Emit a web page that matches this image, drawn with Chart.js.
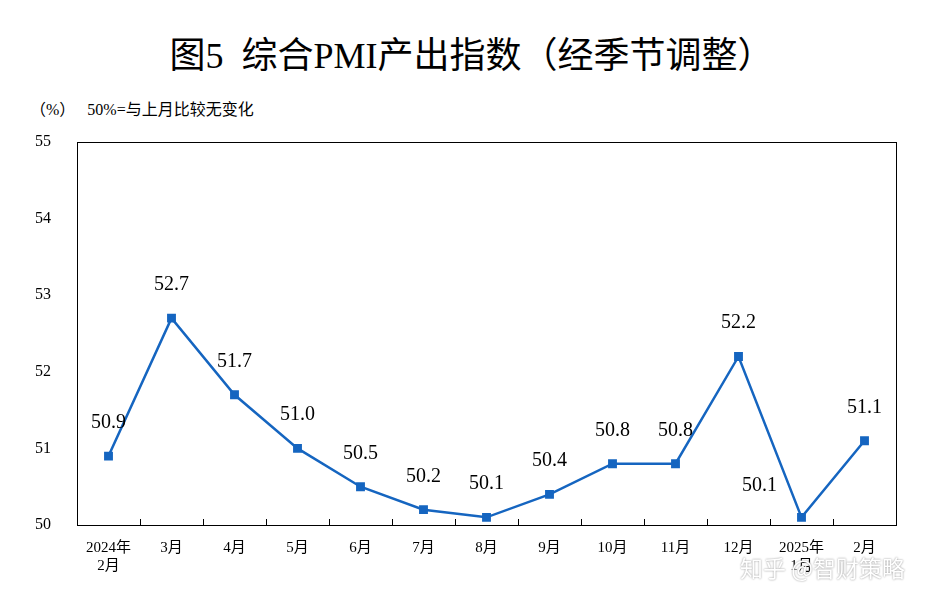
<!DOCTYPE html>
<html><head><meta charset="utf-8">
<script src="https://cdn.jsdelivr.net/npm/chart.js@4"></script>
<style>
body{margin:0;background:#fff;width:943px;height:603px;overflow:hidden;font-family:"Liberation Serif","Noto Sans CJK SC",serif}
#title{position:absolute;top:26px;left:0;width:943px;text-align:center;font-size:36px;color:#000}
#unit{position:absolute;top:96px;left:30px;font-size:16px;color:#000}
#wm{position:absolute;left:740px;top:550px;font-size:23px;color:#fff;text-shadow:0 0 2px #888;font-family:"Noto Sans CJK SC",sans-serif}
#box{position:absolute;left:0;top:0;width:943px;height:603px}
</style></head><body>
<div id="title">图5&nbsp; 综合PMI产出指数（经季节调整）</div>
<div id="unit">（%）&nbsp;&nbsp; 50%=与上月比较无变化</div>
<div id="box"><canvas id="c" width="943" height="603"></canvas></div>
<div id="wm">知乎 @智财策略</div>
<script>
const categories = [['2024年','2月'],'3月','4月','5月','6月','7月','8月','9月','10月','11月','12月',['2025年','1月'],'2月'];
const values = [50.9,52.7,51.7,51.0,50.5,50.2,50.1,50.4,50.8,50.8,52.2,50.1,51.1];
const yTicks = [50,51,52,53,54,55];

const frame = {
  id:'frame',
  afterDraw(chart){
    const {ctx, chartArea:a, scales:{x}} = chart;
    ctx.save();
    ctx.strokeStyle='#000'; ctx.lineWidth=1;
    ctx.strokeRect(a.left+0.5,a.top+0.5,a.right-a.left,a.bottom-a.top);
    for(let i=1;i<categories.length;i++){
      const px=Math.round((x.getPixelForValue(i-1)+x.getPixelForValue(i))/2)+0.5;
      ctx.beginPath();ctx.moveTo(px,a.bottom);ctx.lineTo(px,a.bottom-6);ctx.stroke();
    }
    ctx.font='20px "Liberation Serif", serif';
    ctx.fillStyle='#000';ctx.textAlign='center';
    chart.getDatasetMeta(0).data.forEach((p,i)=>{
      let tx=p.x, ty=p.y-28;
      if(i===11){tx=p.x-42; ty=p.y-26;}
      ctx.fillText(values[i].toFixed(1),tx,ty);
    });
    ctx.restore();
  }
};

new Chart(document.getElementById('c'),{
  type:'line',
  data:{labels:categories,datasets:[{data:values,borderColor:'#1565c0',backgroundColor:'#1565c0',borderWidth:2.5,pointStyle:'rect',pointRadius:4.5,tension:0}]},
  options:{
    responsive:false,animation:false,
    layout:{padding:{left:0,right:47,top:142,bottom:22}},
    plugins:{legend:{display:false},tooltip:{enabled:false}},
    scales:{
      x:{offset:true,grid:{display:false},border:{display:false},
        ticks:{color:'#000',font:{family:'"Liberation Serif","Noto Sans CJK SC",serif',size:15},maxRotation:0,autoSkip:false,padding:6}},
      y:{min:50,max:55,afterBuildTicks(s){s.ticks=yTicks.map(v=>({value:v}));},
        afterFit(s){s.width=77;},
        grid:{display:false},border:{display:false},
        ticks:{color:'#000',font:{family:'"Liberation Serif",serif',size:16},padding:18}}
    }
  },
  plugins:[frame]
});
</script>
</body></html>
